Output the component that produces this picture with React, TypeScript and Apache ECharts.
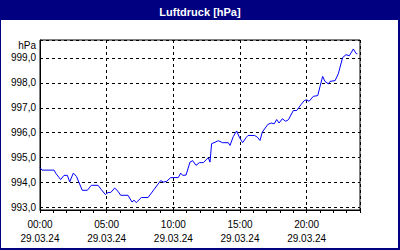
import React, { useEffect, useRef } from "react";
import * as echarts from "echarts";

const TITLE = "Luftdruck [hPa]";
const UNIT = "hPa";
const DATE_LABEL = "29.03.24";

// time in hours since 00:00 on 29.03.24
const hours = [
  0.0, 0.15, 1.05, 1.2, 1.55, 1.8, 2.05, 2.23, 2.5, 2.73, 3.17, 3.55, 3.85, 4.35, 4.6, 4.9,
  5.1, 5.3, 5.6, 5.85, 6.05, 6.6, 6.9, 7.05, 7.22, 7.6, 8.1, 8.55, 9.05, 9.25, 9.5, 9.8,
  10.37, 10.55, 10.7, 10.95, 11.25, 11.45, 11.7, 11.95, 12.25, 12.62, 12.75, 12.87, 13.05,
  13.37, 13.7, 14.12, 14.25, 14.5, 14.75, 14.95, 15.2, 15.45, 15.6, 16.1, 16.3, 16.5, 16.67,
  17.08, 17.33, 17.57, 17.75, 17.93, 18.17, 18.43, 18.63, 19.0, 19.25, 19.58, 19.82, 20.0,
  20.18, 20.5, 20.83, 21.0, 21.2, 21.37, 21.63, 21.75, 22.13, 22.37, 22.7, 22.95, 23.2, 23.5,
  23.7, 23.8,
];

const pressure = [
  994.6, 994.5, 994.5, 994.36, 994.12, 994.29, 994.29, 994.03, 994.38, 994.25, 993.69, 993.69,
  993.89, 993.89, 993.72, 993.52, 993.6, 993.6, 993.78, 993.65, 993.49, 993.49, 993.22, 993.29,
  993.2, 993.4, 993.4, 993.72, 994.08, 994.02, 994.05, 994.2, 994.2, 994.38, 994.29, 994.3,
  994.82, 994.88, 994.69, 994.8, 994.8, 995.0, 994.82, 995.56, 995.6, 995.68, 995.6, 995.6,
  995.49, 995.85, 996.07, 995.82, 995.6, 995.8, 995.89, 995.89, 995.82, 995.69, 996.02, 996.33,
  996.39, 996.36, 996.53, 996.39, 996.56, 996.46, 996.52, 996.89, 996.89, 997.13, 997.29,
  997.32, 997.26, 997.46, 997.49, 997.85, 998.26, 998.06, 997.96, 998.06, 998.09, 998.36,
  999.02, 999.13, 999.09, 999.36, 999.18, 999.16,
];

const Y_MIN = 992.9;
const Y_MAX = 999.72;
const X_MIN = 0;
const X_MAX = 24;

const FONT = "'Liberation Sans', Arial, sans-serif";
const NAVY = "#000080";

export default function App() {
  const ref = useRef<HTMLDivElement>(null);

  useEffect(() => {
    document.body.style.margin = "0";
    if (!ref.current) return;
    const chart = echarts.init(ref.current, undefined, { renderer: "svg" });
    const data = hours.map((h, i) => [h, pressure[i]]);
    chart.setOption({
      animation: false,
      backgroundColor: "#ffffff",
      grid: {
        left: 40,
        top: 40,
        right: 40,
        bottom: 40,
        show: true,
        borderColor: "#000",
        borderWidth: 1,
        backgroundColor: "transparent",
      },
      graphic: [
        { type: "rect", shape: { x: 0, y: 0, width: 400, height: 20 }, style: { fill: NAVY }, silent: true },
        { type: "rect", shape: { x: 0, y: 0, width: 1, height: 250 }, style: { fill: NAVY }, silent: true },
        { type: "rect", shape: { x: 398, y: 0, width: 2, height: 250 }, style: { fill: NAVY }, silent: true },
        { type: "rect", shape: { x: 0, y: 248, width: 400, height: 2 }, style: { fill: NAVY }, silent: true },
        {
          type: "text",
          x: 200,
          y: 12,
          style: {
            text: TITLE,
            fill: "#fff",
            font: `bold 11px ${FONT}`,
            textAlign: "center",
            textVerticalAlign: "middle",
          },
          silent: true,
        },
        {
          type: "text",
          x: 36,
          y: 45,
          style: {
            text: UNIT,
            fill: "#000",
            font: `10px ${FONT}`,
            textAlign: "right",
            textVerticalAlign: "middle",
          },
          silent: true,
        },
      ],
      xAxis: [
        {
          type: "value",
          min: X_MIN,
          max: X_MAX,
          interval: 5,
          position: "bottom",
          axisLine: { show: true, lineStyle: { color: "#000", width: 1 } },
          axisTick: { show: false },
          axisLabel: {
            show: true,
            color: "#000",
            fontFamily: FONT,
            fontSize: 10,
            lineHeight: 14,
            margin: 7,
            showMaxLabel: false,
            formatter: (v: number) => `${String(Math.round(v)).padStart(2, "0")}:00\n${DATE_LABEL}`,
          },
          splitLine: { show: true, lineStyle: { color: "#000", type: [3, 3], width: 1 } },
        },
        {
          type: "value",
          min: X_MIN,
          max: X_MAX,
          interval: 1,
          position: "bottom",
          axisLine: { show: false },
          axisTick: { show: true, length: 3, lineStyle: { color: "#000", width: 1 } },
          axisLabel: { show: false },
          splitLine: { show: false },
        },
      ],
      yAxis: {
        type: "value",
        min: Y_MIN,
        max: Y_MAX,
        splitNumber: 7,
        axisLine: { show: true, lineStyle: { color: "#000", width: 1 } },
        axisTick: { show: false },
        axisLabel: {
          color: "#000",
          fontFamily: FONT,
          fontSize: 10,
          margin: 4,
          showMinLabel: false,
          showMaxLabel: false,
          formatter: (v: number) => v.toFixed(1).replace(".", ","),
        },
        splitLine: { show: true, lineStyle: { color: "#000", type: [3, 3], width: 1 } },
      },
      series: [
        {
          type: "line",
          xAxisIndex: 0,
          data,
          showSymbol: false,
          symbol: "none",
          lineStyle: { color: "#0000ff", width: 1 },
          silent: true,
        },
      ],
    });
    return () => chart.dispose();
  }, []);

  return (
    <div
      ref={ref}
      style={{ width: 400, height: 250, position: "fixed", left: 0, top: 0 }}
    />
  );
}
